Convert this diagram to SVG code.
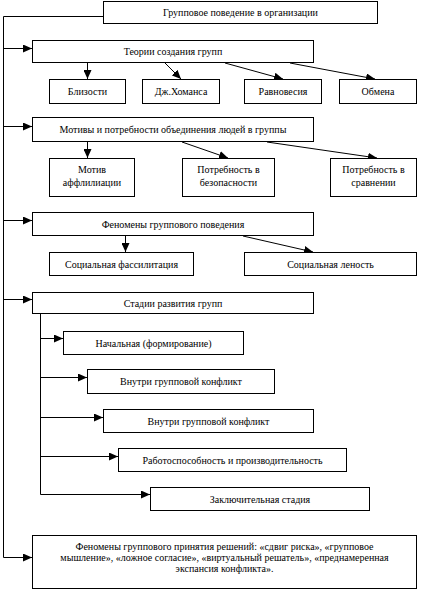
<svg xmlns="http://www.w3.org/2000/svg" width="426" height="591" viewBox="0 0 426 591">
<defs>
<marker id="ah" viewBox="0 0 10 10" refX="10" refY="5" markerWidth="9" markerHeight="8" markerUnits="userSpaceOnUse" orient="auto" preserveAspectRatio="none">
<path d="M0,0 L10,5 L0,10 z" fill="#000"/>
</marker>
<style>
rect{fill:#fff;stroke:#000;stroke-width:1}
text{font-family:"Liberation Serif","Times New Roman",serif;font-size:10px;fill:#000;text-anchor:middle}
.c line,.c polyline{stroke:#000;stroke-width:1;fill:none}
.a{marker-end:url(#ah)}
</style>
</defs>
<rect width="426" height="591" style="fill:#fff;stroke:none"/>
<g class="c" id="connectors">
<polyline points="103.5,16.5 3.5,16.5 3.5,557.5"/>
<line class="a" x1="3.5" y1="48.5" x2="32" y2="48.5"/>
<line class="a" x1="3.5" y1="126.5" x2="32" y2="126.5"/>
<line class="a" x1="3.5" y1="220.5" x2="32" y2="220.5"/>
<line class="a" x1="3.5" y1="299.5" x2="32" y2="299.5"/>
<line class="a" x1="3.5" y1="557.5" x2="32" y2="557.5"/>
<line class="a" x1="87.5" y1="63" x2="87.5" y2="79"/>
<line class="a" x1="165" y1="63" x2="181" y2="79"/>
<line class="a" x1="225" y1="63" x2="283" y2="79"/>
<line class="a" x1="290" y1="63" x2="375" y2="79"/>
<line class="a" x1="87.5" y1="142" x2="87.5" y2="158"/>
<line class="a" x1="182" y1="142" x2="228" y2="158"/>
<line class="a" x1="267" y1="142" x2="377" y2="158"/>
<line class="a" x1="125.5" y1="236" x2="125.5" y2="252"/>
<line class="a" x1="243" y1="236" x2="313" y2="252"/>
<line x1="40.5" y1="314" x2="40.5" y2="494.5"/>
<line class="a" x1="40.5" y1="338.5" x2="63" y2="338.5"/>
<line class="a" x1="40.5" y1="377.5" x2="87" y2="377.5"/>
<line class="a" x1="40.5" y1="417.5" x2="103" y2="417.5"/>
<line class="a" x1="40.5" y1="456.5" x2="118" y2="456.5"/>
<line class="a" x1="40.5" y1="494.5" x2="150" y2="494.5"/>
</g>
<g id="root"><rect x="103.5" y="1.5" width="274" height="22"/><text x="240.5" y="16">Групповое поведение в организации</text></g>
<g id="theories"><rect x="32.5" y="40.5" width="281" height="22"/><text x="173" y="55">Теории создания групп</text></g>
<g id="t1"><rect x="49.5" y="79.5" width="76" height="24"/><text x="87.5" y="95">Близости</text></g>
<g id="t2"><rect x="142.5" y="79.5" width="77" height="24"/><text x="181" y="95">Дж.Хоманса</text></g>
<g id="t3"><rect x="244.5" y="79.5" width="77" height="24"/><text x="283" y="95">Равновесия</text></g>
<g id="t4"><rect x="339.5" y="79.5" width="77" height="24"/><text x="378" y="95">Обмена</text></g>
<g id="motives"><rect x="32.5" y="117.5" width="281" height="24"/><text x="173" y="133">Мотивы и потребности объединения людей в  группы</text></g>
<g id="m1"><rect x="49.5" y="158.5" width="85" height="38"/><text x="92" y="173">Мотив</text><text x="92" y="186">аффлилиации</text></g>
<g id="m2"><rect x="182.5" y="158.5" width="92" height="38"/><text x="228.5" y="173">Потребность в</text><text x="228.5" y="186">безопасности</text></g>
<g id="m3"><rect x="330.5" y="158.5" width="86" height="38"/><text x="373.5" y="173">Потребность в</text><text x="373.5" y="186">сравнении</text></g>
<g id="phenomena"><rect x="32.5" y="212.5" width="281" height="23"/><text x="173" y="228">Феномены группового поведения</text></g>
<g id="p1"><rect x="49.5" y="252.5" width="144" height="23"/><text x="121.5" y="268">Социальная фассилитация</text></g>
<g id="p2"><rect x="244.5" y="252.5" width="172" height="23"/><text x="330.5" y="268">Социальная леность</text></g>
<g id="stages"><rect x="32.5" y="292.5" width="281" height="21"/><text x="173" y="307">Стадии развития групп</text></g>
<g id="s1"><rect x="63.5" y="331.5" width="180" height="23"/><text x="153.5" y="347">Начальная (формирование)</text></g>
<g id="s2"><rect x="87.5" y="369.5" width="187" height="24"/><text x="181" y="385">Внутри групповой конфликт</text></g>
<g id="s3"><rect x="103.5" y="409.5" width="210" height="23"/><text x="208.5" y="425">Внутри групповой конфликт</text></g>
<g id="s4"><rect x="118.5" y="448.5" width="228" height="23"/><text x="232.5" y="464">Работоспособность и производительность</text></g>
<g id="s5"><rect x="150.5" y="487.5" width="219" height="23"/><text x="260" y="503">Заключительная стадия</text></g>
<g id="decisions"><rect x="32.5" y="535.5" width="384" height="53"/>
<text x="224.5" y="550">Феномены группового принятия решений: «сдвиг риска», «групповое</text>
<text x="224.5" y="561">мышление», «ложное согласие», «виртуальный решатель», «преднамеренная</text>
<text x="224.5" y="572">экспансия конфликта».</text></g>
</svg>
